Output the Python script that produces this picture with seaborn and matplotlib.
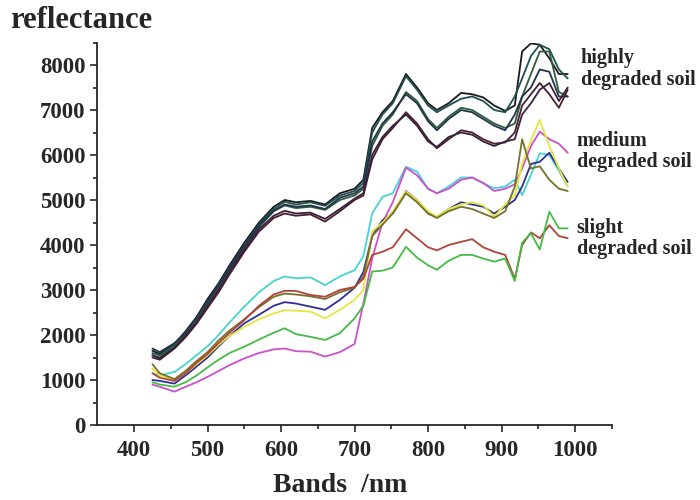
"""
Reflectance spectra of soil samples at three degradation levels.
"""

import pandas as pd
import matplotlib.pyplot as plt
import seaborn as sns

# ---------- DATA ----------
bands = [425, 435, 455, 470, 485, 500, 515, 530, 550, 570, 590, 605, 620, 640, 660,
         680, 700, 712, 724, 738, 752, 770, 785, 800, 812, 828, 845, 860, 875, 890,
         905, 918, 928, 940, 952, 965, 978, 990]

# highly degraded soil
high_1 = [1650, 1580, 1800, 2080, 2400, 2800, 3150, 3550, 4050, 4500, 4850, 5000, 4950, 4980, 4900,
          5150, 5250, 5450, 6600, 6950, 7200, 7800, 7500, 7150, 7000, 7150, 7380, 7350, 7280, 7100,
          6980, 7100, 8300, 8480, 8450, 8150, 7800, 7800]
high_2 = [1600, 1550, 1780, 2050, 2380, 2760, 3120, 3500, 4000, 4450, 4800, 4960, 4900, 4950, 4870,
          5100, 5200, 5380, 6500, 6900, 7150, 7750, 7450, 7100, 6950, 7100, 7250, 7300, 7200, 7000,
          6950, 7300, 7700, 8200, 8450, 8350, 7900, 7700]
high_3 = [1550, 1500, 1750, 2000, 2330, 2700, 3050, 3450, 3950, 4400, 4750, 4880, 4820, 4850, 4780,
          5000, 5100, 5250, 6200, 6650, 6900, 7400, 7200, 6800, 6600, 6850, 7050, 7000, 6850, 6700,
          6600, 6700, 7300, 7800, 8300, 8300, 7400, 7300]
high_4 = [1700, 1620, 1820, 2060, 2380, 2750, 3100, 3480, 3980, 4420, 4760, 4900, 4850, 4880, 4800,
          5050, 5150, 5300, 6300, 6700, 6950, 7350, 7150, 6750, 6550, 6800, 7000, 6950, 6800, 6650,
          6550, 6900, 7300, 7500, 7900, 7850, 7300, 7300]
high_5 = [1500, 1450, 1700, 1950, 2250, 2600, 2950, 3350, 3850, 4300, 4600, 4700, 4650, 4680, 4520,
          4750, 5000, 5100, 5900, 6350, 6600, 6950, 6700, 6350, 6150, 6350, 6550, 6500, 6350, 6250,
          6280, 6500, 7100, 7350, 7600, 7350, 7050, 7450]
high_6 = [1550, 1480, 1720, 1980, 2280, 2650, 3000, 3400, 3900, 4350, 4650, 4760, 4700, 4720, 4580,
          4800, 5030, 5150, 6000, 6400, 6650, 6900, 6650, 6300, 6180, 6400, 6500, 6450, 6300, 6200,
          6300, 6350, 6900, 7150, 7450, 7600, 7200, 7500]

# medium degraded soil
med_cyan = [1150, 1100, 1180, 1350, 1550, 1750, 2000, 2280, 2630, 2950, 3200, 3300, 3260, 3280, 3110,
            3300, 3440, 3750, 4700, 5070, 5150, 5740, 5630, 5250, 5150, 5300, 5500, 5500, 5370, 5260,
            5300, 5450, 5110, 5560, 6040, 6000, 5650, 5300]
med_magenta = [900, 850, 740, 850, 950, 1070, 1200, 1330, 1480, 1600, 1680, 1700, 1640, 1630, 1520,
               1620, 1800, 2700, 3700, 4500, 4950, 5720, 5550, 5250, 5150, 5250, 5450, 5500, 5380, 5200,
               5250, 5350, 5700, 6200, 6520, 6350, 6250, 6050]
med_blue = [1000, 980, 920, 1100, 1300, 1500, 1750, 1980, 2260, 2450, 2650, 2730, 2700, 2630, 2560,
            2780, 3050, 3400, 4200, 4550, 4700, 5200, 5000, 4700, 4620, 4800, 4950, 4900, 4850, 4700,
            4850, 5000, 5300, 5800, 5850, 6050, 5700, 5400]
med_yellow = [1250, 1100, 1000, 1150, 1350, 1550, 1780, 1980, 2180, 2350, 2480, 2550, 2540, 2520, 2370,
              2560, 2780, 3000, 4300, 4500, 4750, 5190, 5000, 4750, 4630, 4800, 4900, 4950, 4880, 4630,
              4900, 5100, 5800, 6330, 6780, 6200, 5700, 5300]
med_olive = [1350, 1150, 1020, 1200, 1420, 1620, 1880, 2100, 2350, 2620, 2850, 2920, 2900, 2860, 2800,
             2950, 3050, 3300, 4200, 4450, 4700, 5150, 4950, 4700, 4600, 4750, 4850, 4800, 4700, 4600,
             4750, 5300, 6350, 5700, 5750, 5450, 5250, 5200]

# slight degraded soil
slight_red = [1150, 1050, 980, 1150, 1380, 1580, 1820, 2050, 2330, 2650, 2900, 2980, 2980, 2890, 2850,
              3000, 3070, 3250, 3780, 3850, 3950, 4350, 4150, 3950, 3880, 4000, 4070, 4130, 3950, 3850,
              3780, 3250, 4000, 4280, 4150, 4440, 4200, 4150]
slight_green = [950, 900, 850, 950, 1100, 1280, 1450, 1600, 1740, 1900, 2050, 2150, 2020, 1960, 1890,
                2040, 2370, 2650, 3410, 3430, 3500, 3960, 3720, 3550, 3450, 3650, 3780, 3780, 3700, 3630,
                3700, 3200, 4050, 4260, 3900, 4740, 4370, 4370]

series = {
    "high_1": high_1, "high_2": high_2, "high_3": high_3,
    "high_4": high_4, "high_5": high_5, "high_6": high_6,
    "med_cyan": med_cyan, "med_magenta": med_magenta, "med_blue": med_blue,
    "med_yellow": med_yellow, "med_olive": med_olive,
    "slight_red": slight_red, "slight_green": slight_green,
}
colors = {
    "high_1": "#1a1a1a", "high_2": "#1f4f4f", "high_3": "#2f5e3a",
    "high_4": "#22324d", "high_5": "#4a1f2a", "high_6": "#3a2040",
    "med_cyan": "#45d4d4", "med_magenta": "#cc4fcc", "med_blue": "#2e2e96",
    "med_yellow": "#e6e640", "med_olive": "#75702c",
    "slight_red": "#b0443a", "slight_green": "#44bb44",
}

df = pd.concat(
    [pd.DataFrame({"band": bands, "reflectance": v, "sample": k}) for k, v in series.items()],
    ignore_index=True,
)

# ---------- PLOT ----------
sns.set_style("ticks")
plt.rcParams["font.family"] = ["Liberation Serif", "DejaVu Serif"]
plt.rcParams["font.weight"] = "bold"

fig = plt.figure(figsize=(7, 5), dpi=100)
ax = fig.add_axes([0.139, 0.15, 0.735, 0.765])

sns.lineplot(data=df, x="band", y="reflectance", hue="sample", palette=colors,
             legend=False, linewidth=1.3, ax=ax)

ax.set_xlim(350, 1050)
ax.set_ylim(0, 8500)
ax.set_xticks([400, 500, 600, 700, 800, 900, 1000])
ax.set_xticks([450, 550, 650, 750, 850, 950, 1050], minor=True)
ax.set_yticks(range(0, 8001, 1000))
ax.set_yticks(range(500, 8501, 1000), minor=True)
ax.tick_params(which="major", direction="out", length=5, width=1.2, labelsize=16.5)
ax.tick_params(which="minor", direction="out", length=3, width=1.2)
ax.tick_params(axis="x", pad=6)
for lab in ax.get_xticklabels() + ax.get_yticklabels():
    lab.set_fontweight("bold")
sns.despine(ax=ax)
for sp in ["left", "bottom"]:
    ax.spines[sp].set_linewidth(1.3)

ax.set_xlabel("")
ax.set_ylabel("")
fig.text(340 / 700, 1 - 485 / 500, "Bands  /nm", fontsize=20, fontweight="bold",
         ha="center", va="center")
fig.text(0.014, 0.96, "reflectance", fontsize=22, fontweight="bold", ha="left", va="center")

txt = dict(fontsize=14.5, fontweight="bold", ha="left", va="center", linespacing=1.1, clip_on=False)
ax.text(1008, 7910, "highly\ndegraded soil", **txt)
ax.text(1002, 6080, "medium\ndegraded soil", **txt)
ax.text(1002, 4140, "slight\ndegraded soil", **txt)

plt.savefig("out.png", dpi=100)
plt.close()
